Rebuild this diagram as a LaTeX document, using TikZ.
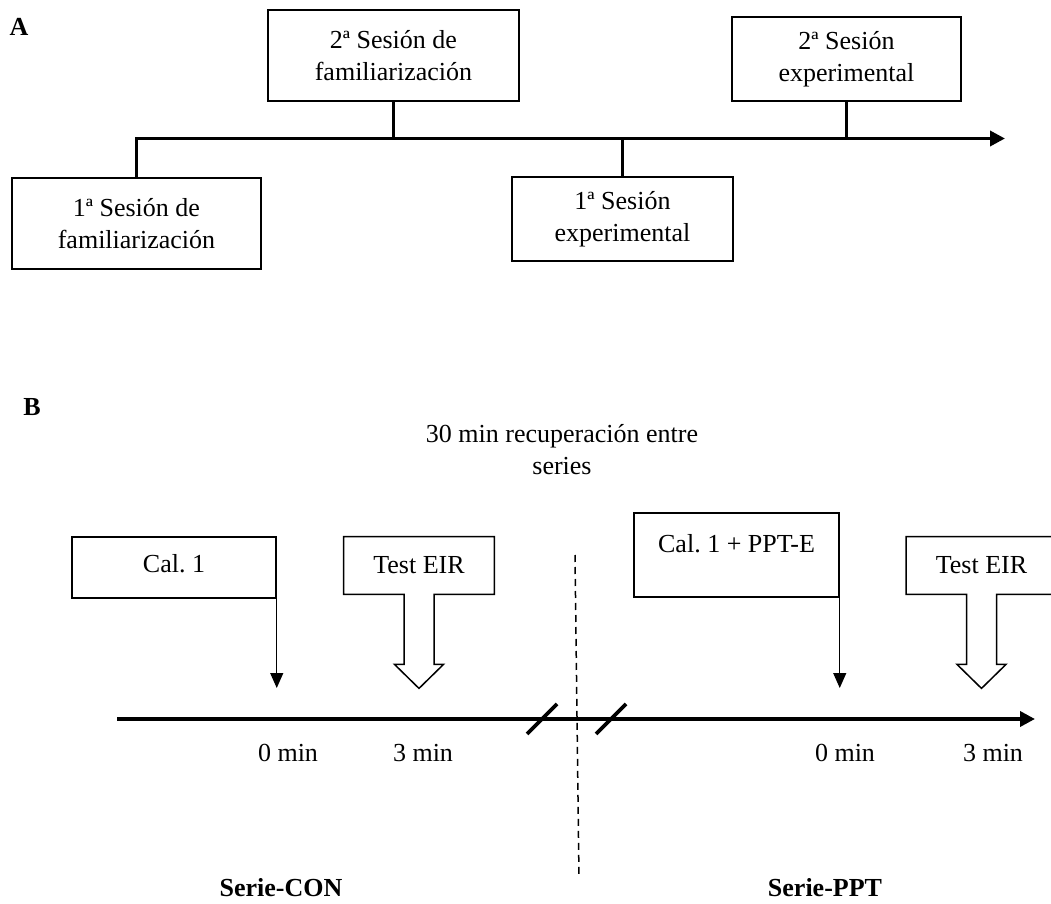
\documentclass[tikz,border=0pt]{standalone}
\usepackage{fontspec}
\setmainfont{Liberation Serif}
\usetikzlibrary{arrows.meta}
\frenchspacing

\begin{document}
\begin{tikzpicture}[x=0.5pt,y=-0.5pt,
			font=\fontsize{13}{16}\selectfont,
			box/.style={draw, line width=0.75pt, inner sep=0pt, align=center},
			lbl/.style={font=\fontsize{13}{16}\selectfont\bfseries},
			axis/.style={line width=1.8pt},
			bigtip/.style={-{Triangle[length=7.5pt,width=7.5pt]}},
			thin/.style={line width=0.6pt, -{Triangle[length=7.5pt,width=6.5pt]}},
			block/.style={line width=0.75pt, line join=miter}
			]
			\useasboundingbox (0,0) rectangle (1051,904);
			\clip (0,0) rectangle (1051,904);
			% A: sesiones
			\node[lbl] (lA) at (19,27) {A};
			\node[box, minimum width=124.5pt, minimum height=45.5pt] (fam1) at (136.5,223.5) {1ª Sesión de\\familiarización};
			\node[box, minimum width=125.5pt, minimum height=45.5pt] (fam2) at (393.5,55.5) {2ª Sesión de\\familiarización};
			\node[box, minimum width=110.5pt, minimum height=42pt] (exp1) at (622.5,219) {1ª Sesión\\experimental};
			\node[box, minimum width=114.5pt, minimum height=42pt] (exp2) at (846.5,59) {2ª Sesión\\experimental};
			\coordinate (endA) at (1005,138.5);
			\draw[axis, bigtip] (fam1.north) |- (endA);
			\draw[axis] (fam2.south) -- (fam2.south |- endA);
			\draw[axis] (exp1.north) -- (exp1.north |- endA);
			\draw[axis] (exp2.south) -- (exp2.south |- endA);
			% B: series
			\node[lbl] (lB) at (32,407) {B};
			\node[align=center] (rec) at (562,450) {30 min recuperación entre\\series};
			\node[box, minimum width=102pt, minimum height=30.5pt, text depth=4pt] (cal1) at (174,567.5) {Cal. 1};
			\node[box, minimum width=102.5pt, minimum height=42pt, text depth=12pt] (cal2) at (736.5,555) {Cal. 1 + PPT-E};
			\node[minimum width=75pt, minimum height=28.5pt, inner sep=0pt] (eir1) at (419,565.5) {Test EIR};
			\node[minimum width=75pt, minimum height=28.5pt, inner sep=0pt] (eir2) at (981.5,565.5) {Test EIR};
			\coordinate (tip) at (0,688);
			\draw[thin] (cal1.south east) -- (cal1.south east |- tip);
			\draw[thin] (cal2.south east) -- (cal2.south east |- tip);
			\draw[block] (eir1.north west) -- (eir1.north east) -- (eir1.south east) -- ([xshift=7.5pt]eir1.south)
			-- ++(0,70) -- ++(9.5,0) -- ++(-24.5,24) -- ++(-24.5,-24) -- ++(9.5,0) -- ++(0,-70) -- (eir1.south west) -- cycle;
			\draw[block] (eir2.north west) -- (eir2.north east) -- (eir2.south east) -- ([xshift=7.5pt]eir2.south)
			-- ++(0,70) -- ++(9.5,0) -- ++(-24.5,24) -- ++(-24.5,-24) -- ++(9.5,0) -- ++(0,-70) -- (eir2.south west) -- cycle;
			\coordinate (startB) at (117,719);
			\coordinate (endB) at (1035,719);
			\draw[axis, bigtip] (startB) -- (endB);
			\draw[axis] (527,734) -- (557,704) (596,734) -- (626,704);
			\draw[line width=0.75pt, dash pattern=on 3.5pt off 2.5pt] (575,555) -- (579,878);
			\node (min0a) at (288,753) {0 min};
			\node (min3a) at (423,753) {3 min};
			\node (min0b) at (845,753) {0 min};
			\node (min3b) at (993,753) {3 min};
			\node[lbl] (scon) at (281,888) {Serie-CON};
			\node[lbl] (sppt) at (825,888) {Serie-PPT};
			\end{tikzpicture}
\end{document}
